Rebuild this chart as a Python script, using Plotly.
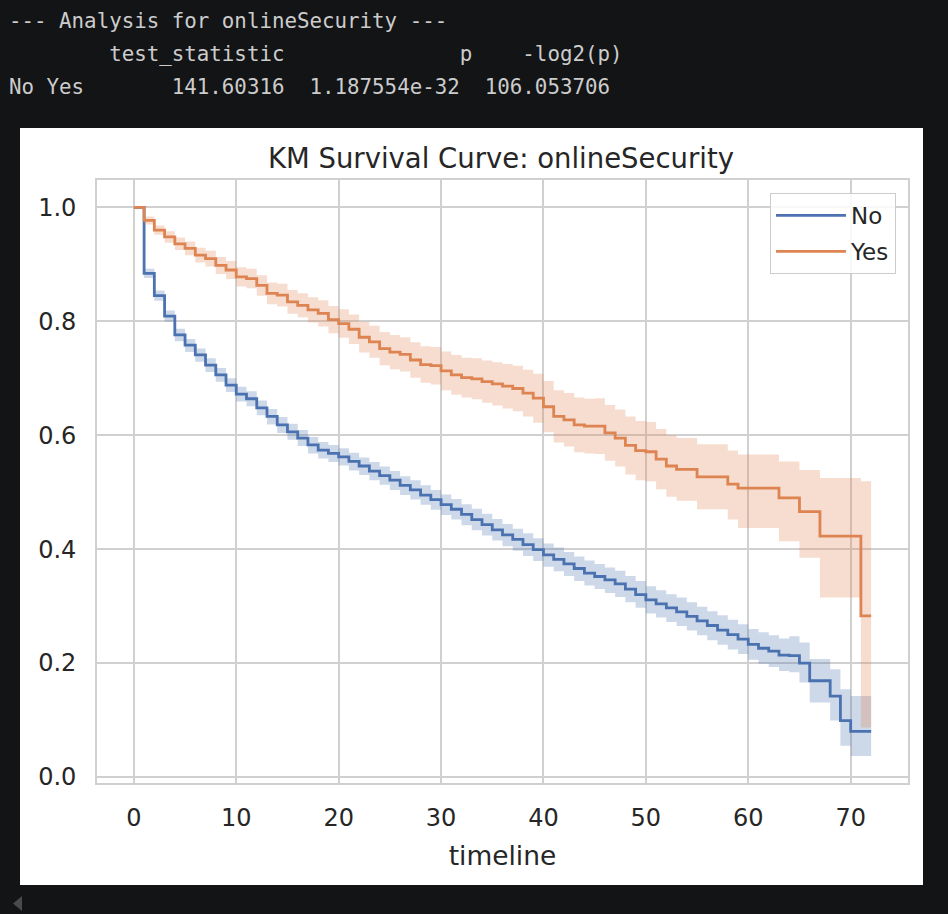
import plotly.graph_objects as go

# ---------------- data ----------------
timeline = list(range(0, 73))

no_surv = [1.000, 0.884, 0.845, 0.809, 0.776, 0.758, 0.741, 0.723, 0.706, 0.688,
           0.672, 0.664, 0.648, 0.633, 0.618, 0.606, 0.595, 0.583, 0.574, 0.568,
           0.562, 0.554, 0.546, 0.537, 0.529, 0.521, 0.512, 0.504, 0.495, 0.487,
           0.478, 0.470, 0.461, 0.452, 0.443, 0.434, 0.425, 0.417, 0.408, 0.399,
           0.390, 0.382, 0.374, 0.366, 0.358, 0.352, 0.346, 0.339, 0.330, 0.320,
           0.311, 0.304, 0.297, 0.290, 0.282, 0.274, 0.266, 0.258, 0.250, 0.242,
           0.233, 0.226, 0.221, 0.214, 0.213, 0.200, 0.169, 0.169, 0.142, 0.099,
           0.080, 0.080, 0.080]
no_lower = [1.000, 0.876, 0.836, 0.799, 0.765, 0.746, 0.729, 0.711, 0.694, 0.676,
            0.659, 0.651, 0.635, 0.619, 0.604, 0.592, 0.581, 0.568, 0.559, 0.553,
            0.547, 0.538, 0.530, 0.521, 0.513, 0.504, 0.495, 0.487, 0.478, 0.469,
            0.460, 0.452, 0.442, 0.433, 0.424, 0.415, 0.405, 0.397, 0.388, 0.379,
            0.369, 0.361, 0.353, 0.344, 0.336, 0.330, 0.323, 0.316, 0.307, 0.297,
            0.287, 0.280, 0.272, 0.265, 0.257, 0.249, 0.240, 0.232, 0.224, 0.216,
            0.206, 0.199, 0.193, 0.186, 0.184, 0.166, 0.131, 0.131, 0.099, 0.055,
            0.037, 0.037, 0.037]
no_upper = [1.000, 0.892, 0.854, 0.819, 0.787, 0.769, 0.752, 0.735, 0.718, 0.700,
            0.685, 0.677, 0.661, 0.646, 0.632, 0.620, 0.609, 0.597, 0.588, 0.583,
            0.577, 0.569, 0.561, 0.553, 0.545, 0.537, 0.528, 0.521, 0.512, 0.504,
            0.496, 0.488, 0.479, 0.471, 0.462, 0.453, 0.444, 0.436, 0.428, 0.419,
            0.410, 0.403, 0.395, 0.387, 0.380, 0.374, 0.368, 0.362, 0.353, 0.344,
            0.335, 0.328, 0.321, 0.315, 0.307, 0.299, 0.291, 0.284, 0.276, 0.268,
            0.260, 0.254, 0.249, 0.243, 0.247, 0.236, 0.207, 0.207, 0.189, 0.154,
            0.142, 0.142, 0.142]

yes_surv = [1.000, 0.977, 0.960, 0.948, 0.936, 0.928, 0.916, 0.910, 0.898, 0.890,
            0.878, 0.875, 0.863, 0.849, 0.846, 0.834, 0.828, 0.820, 0.814, 0.803,
            0.796, 0.786, 0.772, 0.764, 0.752, 0.746, 0.742, 0.732, 0.724, 0.722,
            0.713, 0.706, 0.701, 0.699, 0.694, 0.690, 0.686, 0.682, 0.674, 0.665,
            0.650, 0.633, 0.627, 0.618, 0.616, 0.616, 0.604, 0.595, 0.582, 0.573,
            0.571, 0.558, 0.546, 0.540, 0.540, 0.527, 0.527, 0.527, 0.514, 0.507,
            0.507, 0.507, 0.507, 0.490, 0.490, 0.466, 0.466, 0.423, 0.423, 0.423,
            0.423, 0.283, 0.283]
yes_lower = [1.000, 0.970, 0.952, 0.938, 0.925, 0.916, 0.903, 0.896, 0.883, 0.874,
             0.861, 0.858, 0.845, 0.830, 0.826, 0.813, 0.807, 0.798, 0.791, 0.779,
             0.771, 0.760, 0.745, 0.736, 0.723, 0.716, 0.712, 0.701, 0.692, 0.689,
             0.679, 0.671, 0.666, 0.663, 0.657, 0.652, 0.647, 0.642, 0.633, 0.622,
             0.605, 0.587, 0.580, 0.570, 0.568, 0.567, 0.555, 0.545, 0.531, 0.521,
             0.519, 0.505, 0.492, 0.485, 0.485, 0.470, 0.470, 0.470, 0.452, 0.437,
             0.437, 0.437, 0.437, 0.414, 0.414, 0.385, 0.385, 0.315, 0.315, 0.315,
             0.315, 0.087, 0.087]
yes_upper = [1.000, 0.984, 0.968, 0.958, 0.947, 0.940, 0.929, 0.924, 0.913, 0.906,
             0.895, 0.892, 0.881, 0.868, 0.866, 0.855, 0.849, 0.842, 0.837, 0.827,
             0.821, 0.812, 0.799, 0.792, 0.781, 0.776, 0.772, 0.763, 0.756, 0.755,
             0.747, 0.741, 0.736, 0.735, 0.731, 0.728, 0.725, 0.722, 0.715, 0.708,
             0.695, 0.679, 0.674, 0.666, 0.664, 0.665, 0.653, 0.645, 0.633, 0.625,
             0.623, 0.611, 0.600, 0.595, 0.595, 0.584, 0.584, 0.584, 0.573, 0.566,
             0.566, 0.566, 0.566, 0.554, 0.554, 0.539, 0.539, 0.525, 0.525, 0.525,
             0.525, 0.519, 0.519]

group_names = ["No", "Yes"]
x_tick_vals = [0, 10, 20, 30, 40, 50, 60, 70]
y_tick_vals = [0.0, 0.2, 0.4, 0.6, 0.8, 1.0]

header_lines = [
    "--- Analysis for onlineSecurity ---",
    "        test_statistic              p    -log2(p)",
    "No Yes       141.60316  1.187554e-32  106.053706",
]
chart_title = "KM Survival Curve: onlineSecurity"
x_label = "timeline"

# ---------------- styling ----------------
W, H = 948, 914
def px(x):
    return x / W
def py(y):
    return 1 - y / H

BLUE = "#4C72B0"
ORANGE = "#DD8452"
BLUE_FILL = "rgba(76,114,176,0.28)"
ORANGE_FILL = "rgba(221,132,82,0.28)"
TEXT = "#262626"
GRID = "#d0d0d0"
FONT = "DejaVu Sans"

fig = go.Figure()

series = [
    (group_names[0], no_surv, no_lower, no_upper, BLUE, BLUE_FILL),
    (group_names[1], yes_surv, yes_lower, yes_upper, ORANGE, ORANGE_FILL),
]
for name, s, lo, hi, col, fcol in series:
    fig.add_trace(go.Scatter(x=timeline, y=s, mode="lines", name=name,
                             line=dict(color=col, width=2.8, shape="hv"),
                             legendgroup=name))
    fig.add_trace(go.Scatter(x=timeline, y=lo, mode="lines", showlegend=False,
                             line=dict(width=0, shape="hv", color=fcol),
                             hoverinfo="skip", legendgroup=name))
    fig.add_trace(go.Scatter(x=timeline, y=hi, mode="lines", showlegend=False,
                             line=dict(width=0, shape="hv", color=fcol),
                             fill="tonexty", fillcolor=fcol,
                             hoverinfo="skip", legendgroup=name))

annotations = []
row_y = [21, 54, 87]
for line, yy in zip(header_lines, row_y):
    annotations.append(dict(
        text=line.replace(" ", "\u00a0"), xref="paper", yref="paper",
        x=px(7), y=py(yy), xanchor="left", yanchor="middle", showarrow=False,
        font=dict(family="DejaVu Sans Mono", size=20.8, color="#cccccc")))

shapes = [
    dict(type="rect", xref="paper", yref="paper", x0=px(20), x1=px(923),
         y0=py(885), y1=py(128), fillcolor="white", line=dict(width=0),
         layer="below"),
    dict(type="path", xref="paper", yref="paper",
         path=f"M {px(13)},{py(903.5)} L {px(22)},{py(896)} L {px(22)},{py(911)} Z",
         fillcolor="#4a4a4a", line=dict(width=0), layer="above"),
]

fig.update_layout(
    width=W, height=H,
    margin=dict(l=0, r=0, t=0, b=0),
    paper_bgcolor="#131416",
    plot_bgcolor="white",
    font=dict(family=FONT, color=TEXT),
    title=dict(text=chart_title, x=px(501), y=py(158), xref="paper", yref="paper",
               xanchor="center", yanchor="middle",
               font=dict(family=FONT, size=27.5, color=TEXT)),
    xaxis=dict(domain=[px(97), px(908)], range=[-3.6, 75.6],
               tickvals=x_tick_vals, ticks="", showgrid=True, gridcolor=GRID,
               gridwidth=1.6, zeroline=False, showline=True, mirror=True,
               linecolor=GRID, linewidth=1.6,
               tickfont=dict(family=FONT, size=24, color=TEXT),
               ticklabelstandoff=12, automargin=False,
               title=dict(text=x_label, standoff=16,
                          font=dict(family=FONT, size=26.5, color=TEXT))),
    yaxis=dict(domain=[py(783), py(180)], range=[-0.0105, 1.048],
               tickvals=y_tick_vals, tickformat=".1f", ticks="", showgrid=True,
               gridcolor=GRID, gridwidth=1.6, zeroline=False, showline=True,
               mirror=True, linecolor=GRID, linewidth=1.6,
               tickfont=dict(family=FONT, size=24, color=TEXT),
               ticklabelstandoff=14, automargin=False),
    legend=dict(x=px(896), y=py(193), xanchor="right", yanchor="top",
                bgcolor="rgba(255,255,255,0.85)", bordercolor="#cccccc",
                borderwidth=1, font=dict(family=FONT, size=23, color=TEXT),
                tracegroupgap=3, itemwidth=70),
    annotations=annotations,
    shapes=shapes,
    showlegend=True,
)

fig.write_html("out.html")
